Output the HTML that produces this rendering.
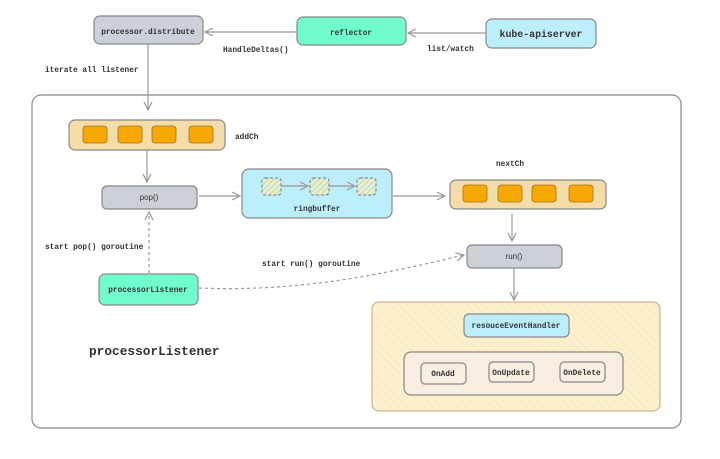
<!DOCTYPE html>
<html><head><meta charset="utf-8"><style>
html,body{margin:0;padding:0;background:#fff;width:720px;height:459px;overflow:hidden}
text{font-family:"Liberation Mono","DejaVu Sans Mono",monospace;fill:#333}
text.s{font-family:"Liberation Sans",sans-serif;font-weight:normal}
</style></head><body>
<svg width="720" height="459" viewBox="0 0 720 459" xmlns="http://www.w3.org/2000/svg">
<defs>
<pattern id="h" width="4" height="4" patternUnits="userSpaceOnUse" patternTransform="rotate(45)">
<rect width="4" height="4" fill="#e6f0d8"/><line x1="0" y1="0" x2="0" y2="4" stroke="#b8cc9a" stroke-width="1.5"/></pattern>
<pattern id="h2" width="6" height="6" patternUnits="userSpaceOnUse" patternTransform="rotate(-45)">
<rect width="6" height="6" fill="#fdf0cf"/><line x1="0" y1="0" x2="0" y2="6" stroke="#fbe6b4" stroke-width="1.5"/></pattern>
<marker id="a" markerWidth="10" markerHeight="10" refX="9" refY="5" orient="auto" markerUnits="userSpaceOnUse"><path d="M1,1 L9,5 L1,9" fill="none" stroke="#999" stroke-width="1.2"/></marker>
</defs>
<g stroke="#888" stroke-width="1.2">
<rect x="94" y="16" width="109" height="28" rx="6" fill="#ccd1d8"/>
<rect x="297" y="17" width="109" height="28" rx="6" fill="#70fccc"/>
<rect x="486" y="19" width="110" height="29" rx="6" fill="#bdeefc"/>
<rect x="32" y="95" width="649" height="333" rx="9" fill="#fff"/>
<rect x="69" y="120" width="156" height="30" rx="6" fill="#f5ddaa"/>
<rect x="102" y="186" width="95" height="23" rx="5" fill="#ccd1d8"/>
<rect x="242" y="169" width="150" height="49" rx="7" fill="#bdeefc"/>
<rect x="450" y="180" width="156" height="29" rx="6" fill="#f5ddaa"/>
<rect x="467" y="245" width="95" height="23" rx="5" fill="#ccd1d8"/>
<rect x="99" y="274" width="99" height="31" rx="6" fill="#70fccc"/>
<rect x="372" y="302" width="288" height="109" rx="7" fill="url(#h2)" stroke="#c8b890"/>
<rect x="464" y="314" width="105" height="23" rx="5" fill="#bdeefc"/>
<rect x="404" y="352" width="219" height="43" rx="7" fill="#f8eee2"/>
<rect x="421" y="363" width="45" height="21" rx="4" fill="#f8eee2"/>
<rect x="489" y="362" width="45" height="20" rx="4" fill="#f8eee2"/>
<rect x="560" y="362" width="45" height="20" rx="4" fill="#f8eee2"/>
</g>
<g fill="#f7a804" stroke="#a07020" stroke-width="0.8">
<rect x="83" y="126" width="24" height="17" rx="3"/><rect x="118" y="126" width="24" height="17" rx="3"/>
<rect x="152" y="126" width="24" height="17" rx="3"/><rect x="189" y="126" width="24" height="17" rx="3"/>
<rect x="463" y="185" width="24" height="17" rx="3"/><rect x="498" y="185" width="24" height="17" rx="3"/>
<rect x="532" y="185" width="24" height="17" rx="3"/><rect x="569" y="185" width="24" height="17" rx="3"/>
</g>
<g fill="url(#h)" stroke="#777" stroke-dasharray="3,2">
<rect x="262" y="178" width="19" height="17" rx="3"/><rect x="310" y="178" width="19" height="17" rx="3"/><rect x="357" y="178" width="19" height="17" rx="3"/>
</g>
<g stroke="#999" stroke-width="1.2" fill="none" marker-end="url(#a)">
<line x1="486" y1="33" x2="408" y2="33"/>
<line x1="297" y1="32" x2="205" y2="32"/>
<line x1="148" y1="44" x2="148" y2="110"/>
<line x1="147" y1="150" x2="147" y2="182"/>
<line x1="199" y1="196" x2="240" y2="196"/>
<line x1="281" y1="186" x2="308" y2="186"/>
<line x1="329" y1="186" x2="355" y2="186"/>
<line x1="393" y1="196" x2="445" y2="196"/>
<line x1="512" y1="214" x2="512" y2="241"/>
<line x1="514" y1="268" x2="514" y2="300"/>
<line x1="149" y1="273" x2="149" y2="212" stroke-dasharray="3,3"/>
<path d="M199,288 C300,292 380,275 464,255" stroke-dasharray="3,3"/>
</g>
<g font-size="7.8" font-weight="bold">
<text x="148" y="34" text-anchor="middle">processor.distribute</text>
<text x="351" y="35" text-anchor="middle">reflector</text>
<text x="541" y="37" text-anchor="middle" font-size="9.9">kube-apiserver</text>
<text x="223" y="52">HandleDeltas()</text>
<text x="427" y="51">list/watch</text>
<text x="45" y="72">iterate all listener</text>
<text x="235" y="139">addCh</text>
<text x="149" y="200" text-anchor="middle" class="s" font-size="8">pop()</text>
<text x="317" y="211" text-anchor="middle">ringbuffer</text>
<text x="496" y="166">nextCh</text>
<text x="514" y="259" text-anchor="middle" class="s" font-size="8">run()</text>
<text x="45" y="249">start pop() goroutine</text>
<text x="262" y="266">start run() goroutine</text>
<text x="148" y="292" text-anchor="middle">processorListener</text>
<text x="516" y="328" text-anchor="middle">resouceEventHandler</text>
<text x="443" y="376" text-anchor="middle">OnAdd</text>
<text x="511" y="375" text-anchor="middle">OnUpdate</text>
<text x="582" y="375" text-anchor="middle">OnDelete</text>
</g>
<text x="89" y="355" font-size="12.8" font-weight="bold">processorListener</text>
</svg>
</body></html>
